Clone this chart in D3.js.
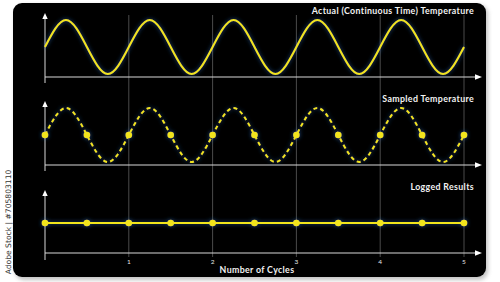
<!DOCTYPE html>
<html>
<head>
<meta charset="utf-8">
<script src="https://cdn.jsdelivr.net/npm/d3@7"></script>
<style>
  html, body { margin: 0; padding: 0; background: #fff; }
  svg { display: block; }
</style>
</head>
<body>
<div id="chart"></div>
<script>
// data
var cycleTicks = [1, 2, 3, 4, 5];
// continuous temperature, read every quarter cycle (normalised -1..1)
var tempTimes = [0, 0.25, 0.5, 0.75, 1, 1.25, 1.5, 1.75, 2, 2.25, 2.5, 2.75, 3, 3.25, 3.5, 3.75, 4, 4.25, 4.5, 4.75, 5];
var tempValues = [0, 1, 0, -1, 0, 1, 0, -1, 0, 1, 0, -1, 0, 1, 0, -1, 0, 1, 0, -1, 0];
// samples taken every half cycle
var sampleTimes = [0, 0.5, 1, 1.5, 2, 2.5, 3, 3.5, 4, 4.5, 5];
var sampleValues = [0, 0, 0, 0, 0, 0, 0, 0, 0, 0, 0];
var loggedValues = [0, 0, 0, 0, 0, 0, 0, 0, 0, 0, 0];
var panelTitles = ['Actual (Continuous Time) Temperature', 'Sampled Temperature', 'Logged Results'];

var width = 500, height = 282;
var yellow = '#f2e51c';
var axisColor = '#d8d8d8';
var font = 'Lato, "Noto Sans", sans-serif';

var svg = d3.select('#chart').append('svg')
    .attr('width', width)
    .attr('height', height);

var defs = svg.append('defs');
var glow = defs.append('filter').attr('id', 'glow')
    .attr('x', '-10%').attr('y', '-50%').attr('width', '120%').attr('height', '200%');
glow.append('feGaussianBlur').attr('in', 'SourceAlpha').attr('stdDeviation', 2.2).attr('result', 'blur');
glow.append('feFlood').attr('flood-color', '#2c6cc4').attr('flood-opacity', 0.7);
glow.append('feComposite').attr('in2', 'blur').attr('operator', 'in').attr('result', 'glowC');
var merge = glow.append('feMerge');
merge.append('feMergeNode').attr('in', 'glowC');
merge.append('feMergeNode').attr('in', 'SourceGraphic');

var shadow = defs.append('filter').attr('id', 'shadow');
shadow.append('feGaussianBlur').attr('stdDeviation', 2);

// panel background
svg.append('rect')
    .attr('x', 15).attr('y', 5).attr('width', 473).attr('height', 275)
    .attr('rx', 9).style('fill', '#999').style('opacity', 0.6)
    .attr('filter', 'url(#shadow)');
svg.append('rect')
    .attr('x', 13).attr('y', 3).attr('width', 473).attr('height', 274)
    .attr('rx', 9).style('fill', '#000');

// side credit text
svg.append('text')
    .attr('transform', 'translate(10.5,222) rotate(-90)')
    .attr('text-anchor', 'middle')
    .style('font-family', '"DejaVu Sans", sans-serif')
    .style('font-size', '7.6px')
    .style('fill', '#333')
    .text('Adobe Stock | #705803110');

var x = d3.scaleLinear().domain([0, 5]).range([45, 464]);

// vertical grid lines
svg.append('g')
    .selectAll('line')
    .data(cycleTicks)
    .enter()
    .append('line')
    .attr('x1', function(d) { return x(d); })
    .attr('x2', function(d) { return x(d); })
    .attr('y1', 15)
    .attr('y2', 257)
    .style('stroke', '#4a4a4a')
    .style('stroke-width', 1);

// panel layout: y-scale ranges, axis position, arrow top
var panels = [
    { top: 13, axisY: 77, bottom: 83, range: [74, 20], titleY: 14 },
    { top: 101, axisY: 165, bottom: 171, range: [162, 108], titleY: 102 },
    { top: 190, axisY: 253, bottom: 260, range: [250, 196], titleY: 190 }
];

panels.forEach(function(p, i) {
    var g = svg.append('g');
    // y axis
    g.append('line')
        .attr('x1', 45).attr('x2', 45)
        .attr('y1', p.top + 4).attr('y2', p.bottom)
        .style('stroke', axisColor).style('stroke-width', 1);
    g.append('path')
        .attr('d', 'M45,' + p.top + 'L42.3,' + (p.top + 6) + 'L47.7,' + (p.top + 6) + 'Z')
        .style('fill', '#fff');
    // x axis
    g.append('line')
        .attr('x1', 45).attr('x2', 476)
        .attr('y1', p.axisY).attr('y2', p.axisY)
        .style('stroke', axisColor).style('stroke-width', 1);
    g.append('path')
        .attr('d', 'M482,' + p.axisY + 'L475,' + (p.axisY - 2.7) + 'L475,' + (p.axisY + 2.7) + 'Z')
        .style('fill', '#fff');
    // title
    g.append('text')
        .attr('x', 474).attr('y', p.titleY)
        .attr('text-anchor', 'end')
        .style('font-family', font)
        .style('font-weight', 'bold')
        .style('font-size', '8.8px')
        .style('letter-spacing', '0.35px')
        .style('fill', '#f2f2f2')
        .text(panelTitles[i]);
    p.y = d3.scaleLinear().domain([-1, 1]).range(p.range);
});

// continuous temperature
var y1 = panels[0].y;
var tempData = tempTimes.map(function(t, i) { return [t, tempValues[i]]; });
svg.append('path')
    .datum(tempData)
    .attr('d', d3.line()
        .x(function(d) { return x(d[0]); })
        .y(function(d) { return y1(d[1]); })
        .curve(d3.curveNatural))
    .style('fill', 'none')
    .style('stroke', yellow)
    .style('stroke-width', 2)
    .attr('filter', 'url(#glow)');

// sampled temperature (dashed)
var y2 = panels[1].y;
var g2 = svg.append('g').attr('filter', 'url(#glow)');
g2.append('path')
    .datum(tempData)
    .attr('d', d3.line()
        .x(function(d) { return x(d[0]); })
        .y(function(d) { return y2(d[1]); })
        .curve(d3.curveNatural))
    .style('fill', 'none')
    .style('stroke', yellow)
    .style('stroke-width', 2)
    .style('stroke-dasharray', '4,3.2');
g2.selectAll('circle')
    .data(sampleTimes)
    .enter()
    .append('circle')
    .attr('cx', function(d) { return x(d); })
    .attr('cy', function(d, i) { return y2(sampleValues[i]); })
    .attr('r', 3.3)
    .style('fill', yellow);

// logged results
var y3 = panels[2].y;
var g3 = svg.append('g').attr('filter', 'url(#glow)');
g3.append('path')
    .datum(sampleTimes.map(function(t, i) { return [t, loggedValues[i]]; }))
    .attr('d', d3.line()
        .x(function(d) { return x(d[0]); })
        .y(function(d) { return y3(d[1]); }))
    .style('fill', 'none')
    .style('stroke', yellow)
    .style('stroke-width', 2);
g3.selectAll('circle')
    .data(sampleTimes)
    .enter()
    .append('circle')
    .attr('cx', function(d) { return x(d); })
    .attr('cy', function(d, i) { return y3(loggedValues[i]); })
    .attr('r', 3.3)
    .style('fill', yellow);

// tick labels
svg.append('g')
    .selectAll('text')
    .data(cycleTicks)
    .enter()
    .append('text')
    .attr('x', function(d) { return x(d); })
    .attr('y', 264)
    .attr('text-anchor', 'middle')
    .style('font-family', font)
    .style('font-size', '6.5px')
    .style('fill', '#e8e8e8')
    .text(function(d) { return d; });

svg.append('text')
    .attr('x', 257)
    .attr('y', 273)
    .attr('text-anchor', 'middle')
    .style('font-family', font)
    .style('font-weight', 'bold')
    .style('font-size', '8.8px')
    .style('letter-spacing', '0.35px')
    .style('fill', '#f2f2f2')
    .text('Number of Cycles');
</script>
</body>
</html>
